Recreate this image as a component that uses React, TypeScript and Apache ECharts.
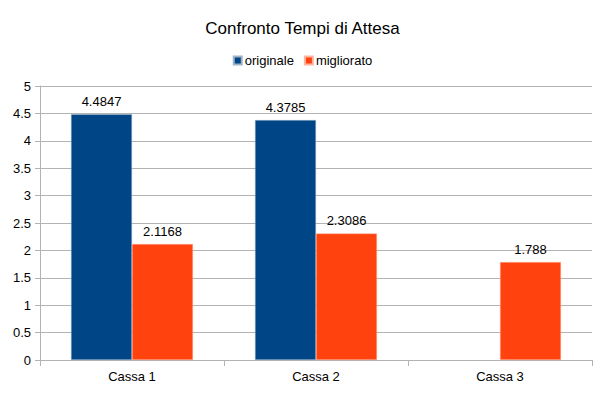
import React, { useEffect, useRef } from "react";
import * as echarts from "echarts";

const categories = ["Cassa 1", "Cassa 2", "Cassa 3"];
const originale = [4.4847, 4.3785, null];
const migliorato = [2.1168, 2.3086, 1.788];
const yTicks = { min: 0, max: 5, interval: 0.5 };

export default function App() {
  const ref = useRef<HTMLDivElement>(null);
  useEffect(() => {
    if (!ref.current) return;
    const chart = echarts.init(ref.current, null, { renderer: "svg" });
    const font = "Liberation Sans";
    chart.setOption({
      animation: false,
      backgroundColor: "#ffffff",
      textStyle: { fontFamily: font },
      title: {
        text: "Confronto Tempi di Attesa",
        left: "center",
        top: 15,
        textStyle: { fontFamily: font, fontSize: 17, fontWeight: "normal", color: "#000" },
      },
      legend: {
        top: 49,
        left: "center",
        itemWidth: 8,
        itemHeight: 8,
        itemGap: 10,
        icon: "rect",
        textStyle: { fontFamily: font, fontSize: 13, color: "#000", padding: [0, 0, 0, -2] },
        data: ["originale", "migliorato"],
      },
      grid: { left: 40, right: 13, top: 86, bottom: 33, containLabel: false },
      xAxis: {
        type: "category",
        data: categories,
        axisLine: { lineStyle: { color: "#b3b3b3" } },
        axisTick: { show: true, length: 6, lineStyle: { color: "#b3b3b3" } },
        axisLabel: { color: "#000", fontSize: 13, fontFamily: font, margin: 10 },
        splitLine: { show: false },
      },
      yAxis: {
        type: "value",
        min: yTicks.min,
        max: yTicks.max,
        interval: yTicks.interval,
        axisLine: { show: true, lineStyle: { color: "#b3b3b3" } },
        axisTick: { show: true, length: 5, lineStyle: { color: "#b3b3b3" } },
        axisLabel: { color: "#000", fontSize: 13, fontFamily: font, margin: 9 },
        splitLine: { lineStyle: { color: "#b3b3b3" } },
      },
      series: [
        {
          name: "originale",
          type: "bar",
          data: originale,
          barWidth: 61,
          barGap: "0%",
          itemStyle: { color: "#004586", borderColor: "#a0b4c8", borderWidth: 0.5 },
          label: { show: true, position: "top", color: "#000", fontSize: 13, fontFamily: font, distance: 6 },
        },
        {
          name: "migliorato",
          type: "bar",
          data: migliorato,
          barWidth: 61,
          barGap: "0%",
          itemStyle: { color: "#ff420e", borderColor: "#ffb4a0", borderWidth: 0.5 },
          label: { show: true, position: "top", color: "#000", fontSize: 13, fontFamily: font, distance: 6 },
        },
      ],
    });
    return () => chart.dispose();
  }, []);
  return <div ref={ref} style={{ width: 605, height: 393, position: "absolute", left: 0, top: 0 }} />;
}
